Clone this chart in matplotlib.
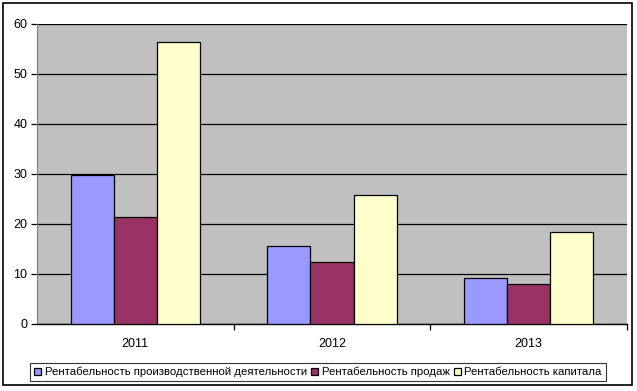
import numpy as np
import matplotlib
matplotlib.use("Agg")
import matplotlib.pyplot as plt
from matplotlib.patches import Rectangle

plt.rcParams["font.family"] = ["Liberation Sans", "DejaVu Sans"]
plt.rcParams["hatch.color"] = "#e0e0e0"
plt.rcParams["hatch.linewidth"] = 0.8

# data
years = ["2011", "2012", "2013"]
series_names = [
    "Рентабельность производственной деятельности",
    "Рентабельность продаж",
    "Рентабельность капитала",
]
prod_activity = [29.8, 15.6, 9.2]
sales = [21.4, 12.4, 8.0]
capital = [56.4, 25.8, 18.4]
colors = ["#9999ff", "#993366", "#ffffcc"]

fig = plt.figure(figsize=(6.37, 3.91), dpi=100)
ax = fig.add_axes([37 / 637, 67 / 391, 590 / 637, 300 / 391])

# stippled grey plot area
ax.set_facecolor("#c0c0c0")
ax.add_patch(Rectangle((0, 0), 1, 1, transform=ax.transAxes, facecolor="none",
                       edgecolor="none", hatch="...", zorder=0))

x = np.arange(len(years))
w = 0.219
for i, (vals, name, c) in enumerate(zip([prod_activity, sales, capital], series_names, colors)):
    ax.bar(x + (i - 1) * w, vals, width=w, color=c, edgecolor="black",
           linewidth=0.9, label=name, zorder=3)

ax.set_xlim(-0.5, 2.5)
ax.set_ylim(0, 60)
ax.set_yticks(range(0, 61, 10))
ax.yaxis.grid(True, color="black", linewidth=0.9, zorder=1)
ax.set_axisbelow(True)

ax.set_xticks(x)
ax.set_xticklabels(years)
ax.set_xticks([0.5, 1.5, 2.5], minor=True)
ax.tick_params(axis="x", which="major", length=0, pad=10, labelsize=9)
ax.tick_params(axis="x", which="minor", length=4, width=0.9, color="black")
ax.tick_params(axis="y", length=4, width=0.9, labelsize=9, pad=3)

for s in ["top", "right"]:
    ax.spines[s].set_visible(False)
ax.spines["left"].set_color("#808080")
ax.spines["bottom"].set_color("black")
ax.spines["bottom"].set_linewidth(1.0)

leg = fig.legend(loc="center", bbox_to_anchor=(318 / 637, 19 / 391), ncol=3,
                 fontsize=8.2, frameon=True, fancybox=False, edgecolor="black",
                 handlelength=0.6, handleheight=0.6, handletextpad=0.3,
                 columnspacing=0.4, borderpad=0.35, borderaxespad=0)
leg.get_frame().set_linewidth(0.8)

# outer chart border
fig.add_artist(Rectangle((3 / 637, 6 / 391), 629 / 637, 382 / 391,
                         transform=fig.transFigure, facecolor="none",
                         edgecolor="black", linewidth=1.2))

fig.savefig("out.png", dpi=100)
